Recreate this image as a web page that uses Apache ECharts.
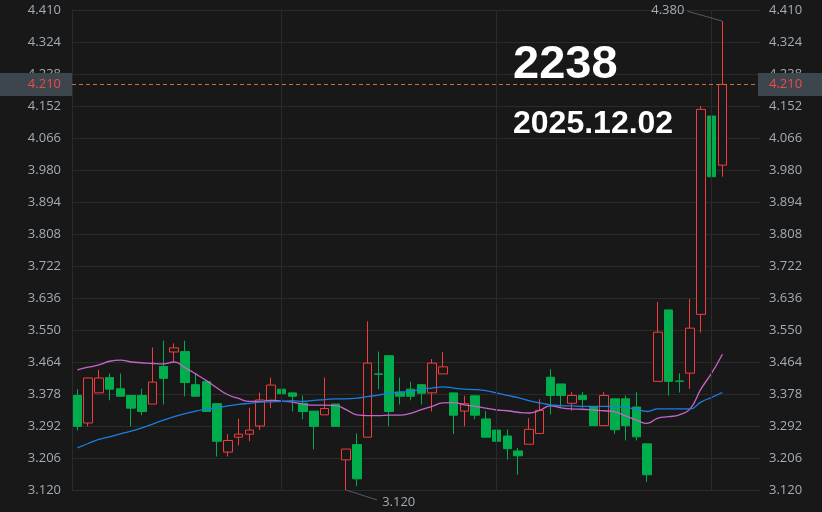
<!DOCTYPE html>
<html><head><meta charset="utf-8">
<script src="https://cdn.jsdelivr.net/npm/echarts@6/dist/echarts.min.js"></script>
<style>html,body{margin:0;padding:0;background:#181818}#c{width:822px;height:512px}</style>
</head><body><div id="c"></div>
<script>
const stockCode = '2238';
const dateLabel = '2025.12.02';
const dates = ['2025-09-04','2025-09-05','2025-09-08','2025-09-09','2025-09-10','2025-09-11','2025-09-12','2025-09-15','2025-09-16','2025-09-17',
'2025-09-18','2025-09-19','2025-09-22','2025-09-23','2025-09-24','2025-09-25','2025-09-26','2025-09-29','2025-09-30','2025-10-02',
'2025-10-03','2025-10-06','2025-10-08','2025-10-09','2025-10-10','2025-10-13','2025-10-14','2025-10-15','2025-10-16','2025-10-17',
'2025-10-20','2025-10-21','2025-10-22','2025-10-23','2025-10-24','2025-10-27','2025-10-28','2025-10-30','2025-10-31','2025-11-03',
'2025-11-04','2025-11-05','2025-11-06','2025-11-07','2025-11-10','2025-11-11','2025-11-12','2025-11-13','2025-11-14','2025-11-17',
'2025-11-18','2025-11-19','2025-11-20','2025-11-21','2025-11-24','2025-11-25','2025-11-26','2025-11-27','2025-11-28','2025-12-01',
'2025-12-02'];
const blankSlots = ['', ' ', '  '];
const opens = [3.374,3.300,3.381,3.422,3.392,3.374,3.374,3.351,3.452,3.491,
3.492,3.403,3.411,3.352,3.222,3.262,3.270,3.292,3.361,3.391,
3.381,3.353,3.332,3.322,3.351,3.201,3.242,3.262,3.432,3.481,
3.383,3.391,3.403,3.381,3.432,3.381,3.332,3.373,3.311,3.281,
3.265,3.225,3.243,3.272,3.423,3.405,3.353,3.374,3.344,3.293,
3.365,3.365,3.343,3.244,3.412,3.604,3.413,3.434,3.592,4.125,
3.993];
const closes = [3.291,3.421,3.421,3.391,3.372,3.340,3.331,3.410,3.420,3.502,
3.409,3.372,3.331,3.251,3.253,3.270,3.281,3.362,3.402,3.379,
3.372,3.331,3.291,3.339,3.291,3.230,3.150,3.461,3.431,3.331,
3.372,3.372,3.380,3.461,3.451,3.321,3.352,3.321,3.262,3.251,
3.231,3.212,3.283,3.334,3.374,3.374,3.374,3.363,3.293,3.374,
3.282,3.293,3.263,3.161,3.544,3.412,3.412,3.555,4.143,3.962,
4.210];
const lows = [3.280,3.291,3.381,3.361,3.372,3.291,3.321,3.351,3.350,3.462,
3.372,3.372,3.331,3.210,3.210,3.240,3.251,3.281,3.340,3.351,
3.331,3.310,3.229,3.322,3.291,3.120,3.130,3.262,3.391,3.291,
3.350,3.361,3.350,3.331,3.432,3.270,3.291,3.310,3.262,3.229,
3.202,3.161,3.243,3.272,3.323,3.344,3.333,3.341,3.293,3.293,
3.271,3.253,3.253,3.142,3.412,3.374,3.382,3.392,3.543,3.932,
3.962];
const highs = [3.391,3.422,3.443,3.433,3.433,3.374,3.392,3.503,3.521,3.514,
3.521,3.432,3.411,3.352,3.270,3.312,3.341,3.382,3.422,3.411,
3.381,3.374,3.332,3.422,3.351,3.230,3.272,3.573,3.492,3.481,
3.422,3.411,3.403,3.472,3.491,3.381,3.373,3.373,3.332,3.300,
3.283,3.233,3.313,3.364,3.445,3.405,3.383,3.383,3.344,3.383,
3.365,3.374,3.383,3.244,3.625,3.604,3.434,3.633,4.152,4.154,
4.380];
const maShort = [3.443,3.450,3.456,3.466,3.469,3.464,3.462,3.460,3.459,3.464,
3.449,3.432,3.414,3.394,3.376,3.366,3.358,3.358,3.361,3.359,
3.356,3.351,3.348,3.348,3.347,3.336,3.322,3.320,3.320,3.321,
3.321,3.326,3.336,3.345,3.354,3.355,3.349,3.345,3.340,3.335,
3.333,3.329,3.327,3.334,3.346,3.341,3.338,3.337,3.335,3.333,
3.330,3.319,3.308,3.299,3.313,3.317,3.322,3.338,3.391,3.434,
3.485];
const maLong = [3.233,3.245,3.256,3.263,3.271,3.278,3.287,3.297,3.308,3.317,
3.325,3.332,3.337,3.341,3.346,3.350,3.353,3.356,3.357,3.358,
3.360,3.358,3.361,3.363,3.365,3.365,3.367,3.371,3.375,3.380,
3.383,3.385,3.391,3.394,3.397,3.394,3.391,3.390,3.387,3.381,
3.374,3.368,3.360,3.354,3.349,3.347,3.346,3.345,3.345,3.345,
3.344,3.342,3.337,3.331,3.338,3.338,3.338,3.338,3.356,3.369,
3.382];
const yMin = 3.120, yMax = 4.410, yStep = 0.086;
const dividerDates = [dates[19], dates[39], dates[59]];

const BG = '#181818', GRID = '#2a2a2a', TXT = '#a3abb4';
const UP = '#f03c3c', DOWN = '#00ad4c';
const candles = dates.map((d, i) => [opens[i], closes[i], lows[i], highs[i]]);
const lastClose = closes[closes.length - 1];

const chart = echarts.init(document.getElementById('c'));
const axisLabel = {color: TXT, fontSize: 13, fontFamily: 'Open Sans', formatter: v => v.toFixed(3)};
const priceTag = {show: true, formatter: p => p.value.toFixed(3), color: '#ef4a4a', fontSize: 13,
  fontFamily: 'Open Sans', backgroundColor: '#3d454d', height: 13, lineHeight: 13};
chart.setOption({
  animation: false,
  backgroundColor: BG,
  grid: {left: 72, right: 62, top: 10, bottom: 22},
  xAxis: {type: 'category', data: dates.concat(blankSlots), boundaryGap: true,
    axisLine: {show: false}, axisTick: {show: false}, axisLabel: {show: false}, splitLine: {show: false}},
  yAxis: [
    {type: 'value', position: 'left', min: yMin, max: yMax, interval: yStep, scale: true,
      axisLine: {show: true, lineStyle: {color: GRID}}, axisTick: {show: false},
      axisLabel: Object.assign({margin: 11}, axisLabel),
      splitLine: {show: true, lineStyle: {color: GRID, width: 1}}},
    {type: 'value', position: 'right', min: yMin, max: yMax, interval: yStep, scale: true,
      axisLine: {show: false}, axisTick: {show: false},
      axisLabel: Object.assign({margin: 9}, axisLabel),
      splitLine: {show: false}}
  ],
  series: [
    {type: 'line', z: 1, data: dates.map(() => '-'), silent: true,
      markLine: {silent: true, symbol: ['none', 'none'], label: {show: false},
        lineStyle: {color: GRID, type: 'solid', width: 1},
        data: dividerDates.map(d => ({xAxis: d}))}},
    {type: 'candlestick', name: stockCode, data: candles, barWidth: '82%', z: 2,
      itemStyle: {color: BG, color0: DOWN, borderColor: UP, borderColor0: DOWN, borderWidth: 1},
      markLine: {silent: true, symbol: ['none', 'none'],
        lineStyle: {color: '#c8703c', type: [4, 3], width: 1},
        data: [
          {yAxis: lastClose, label: Object.assign({position: 'start', distance: 0,
            padding: [5, 11, 5, 40]}, priceTag)},
          {yAxis: lastClose, lineStyle: {color: 'rgba(0,0,0,0)'}, label: Object.assign({position: 'end', distance: -2,
            padding: [5, 30, 5, 11]}, priceTag)}
        ]}},
    {type: 'line', name: 'MA短', data: maShort, smooth: true, showSymbol: false, z: 3,
      lineStyle: {color: '#c864c8', width: 1.3}},
    {type: 'line', name: 'MA长', data: maLong, smooth: true, showSymbol: false, z: 3,
      lineStyle: {color: '#1a7ee0', width: 1.3}}
  ]
});

const hiIdx = highs.indexOf(Math.max(...highs));
const loIdx = lows.indexOf(Math.min(...lows));
const pHi = chart.convertToPixel({seriesIndex: 1}, [dates[hiIdx], highs[hiIdx]]);
const pLo = chart.convertToPixel({seriesIndex: 1}, [dates[loIdx], lows[loIdx]]);
const noteFont = '13px "Open Sans"';
chart.setOption({
  graphic: [
    {type: 'line', shape: {x1: pHi[0], y1: pHi[1], x2: pHi[0] - 35, y2: pHi[1] - 10},
      style: {stroke: '#555a60', lineWidth: 1}, z: 10},
    {type: 'text', x: pHi[0] - 38, y: pHi[1] - 11,
      style: {text: highs[hiIdx].toFixed(3), font: noteFont, fill: TXT, align: 'right', verticalAlign: 'middle'}, z: 10},
    {type: 'line', shape: {x1: pLo[0], y1: pLo[1], x2: pLo[0] + 31, y2: pLo[1] + 10},
      style: {stroke: '#555a60', lineWidth: 1}, z: 10},
    {type: 'text', x: pLo[0] + 36, y: pLo[1] + 12,
      style: {text: lows[loIdx].toFixed(3), font: noteFont, fill: TXT, align: 'left', verticalAlign: 'middle'}, z: 10},
    {type: 'text', x: 513, y: 65,
      style: {text: stockCode, font: 'bold 47px "Liberation Sans"', fill: '#ffffff', verticalAlign: 'middle'}, z: 10},
    {type: 'text', x: 513, y: 124.5,
      style: {text: dateLabel, font: 'bold 32px "Liberation Sans"', fill: '#ffffff', verticalAlign: 'middle'}, z: 10}
  ]
});
</script></body></html>
